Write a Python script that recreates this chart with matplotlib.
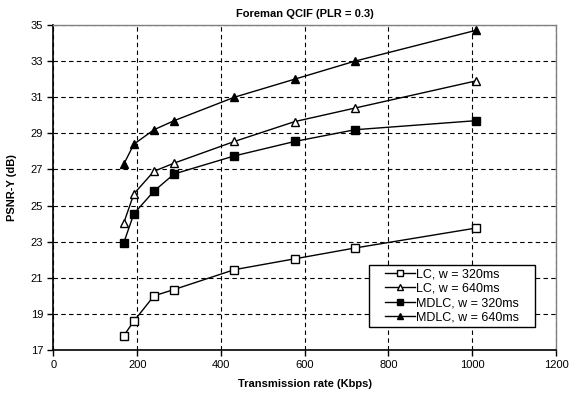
import matplotlib
matplotlib.use("Agg")
import matplotlib.pyplot as plt
from matplotlib.patches import Rectangle

plt.rcParams['font.family'] = ['Liberation Sans', 'DejaVu Sans']

rate = [168, 192, 240, 288, 432, 576, 720, 1008]
lc_320 = [17.8, 18.6, 20.0, 20.35, 21.45, 22.05, 22.65, 23.75]
lc_640 = [24.05, 25.65, 26.9, 27.35, 28.55, 29.65, 30.4, 31.9]
mdlc_320 = [22.95, 24.55, 25.8, 26.75, 27.75, 28.55, 29.2, 29.7]
mdlc_640 = [27.3, 28.4, 29.2, 29.7, 31.0, 32.0, 33.0, 34.7]

fig = plt.figure(figsize=(5.77, 3.95), dpi=100)
ax = fig.add_axes([0.0927, 0.1139, 0.8709, 0.8228])

kw = dict(color='black', lw=1, markersize=6, markeredgewidth=1, markeredgecolor='black')
ax.plot(rate, lc_320, marker='s', markerfacecolor='white', label='LC, w = 320ms', **kw)
ax.plot(rate, lc_640, marker='^', markerfacecolor='white', label='LC, w = 640ms', **kw)
ax.plot(rate, mdlc_320, marker='s', markerfacecolor='black', label='MDLC, w = 320ms', **kw)
ax.plot(rate, mdlc_640, marker='^', markerfacecolor='black', label='MDLC, w = 640ms', **kw)

ax.set_xlim(0, 1200)
ax.set_ylim(17, 35)
ax.set_xticks(range(0, 1201, 200))
ax.set_yticks(range(17, 36, 2))
ax.grid(True, color='black', linestyle=(0, (4, 3)), lw=0.8)
ax.tick_params(labelsize=8, direction='out', length=4, width=1)

for side in ['top', 'right']:
    ax.spines[side].set_color('#808080')
    ax.spines[side].set_linewidth(1)
for side in ['left', 'bottom']:
    ax.spines[side].set_linewidth(1.2)

ax.set_title('Foreman QCIF (PLR = 0.3)', fontsize=8, fontweight='bold', pad=6)
ax.set_xlabel('Transmission rate (Kbps)', fontsize=8, fontweight='bold', labelpad=6)
ax.set_ylabel('PSNR-Y (dB)', fontsize=8, fontweight='bold', labelpad=10)

# legend box drawn separately so it gets the wide left margin
ax.add_patch(Rectangle((0.628, 0.071), 0.33, 0.19, transform=ax.transAxes,
                       facecolor='white', edgecolor='black', lw=1, zorder=4))
leg = ax.legend(loc='center left', bbox_to_anchor=(0.66, 0.166), fontsize=9,
                frameon=False, borderpad=0, labelspacing=0.2, handlelength=2.4,
                handletextpad=0.1, borderaxespad=0, markerscale=0.8)
leg.set_zorder(5)

fig.savefig('out.png', dpi=100)
